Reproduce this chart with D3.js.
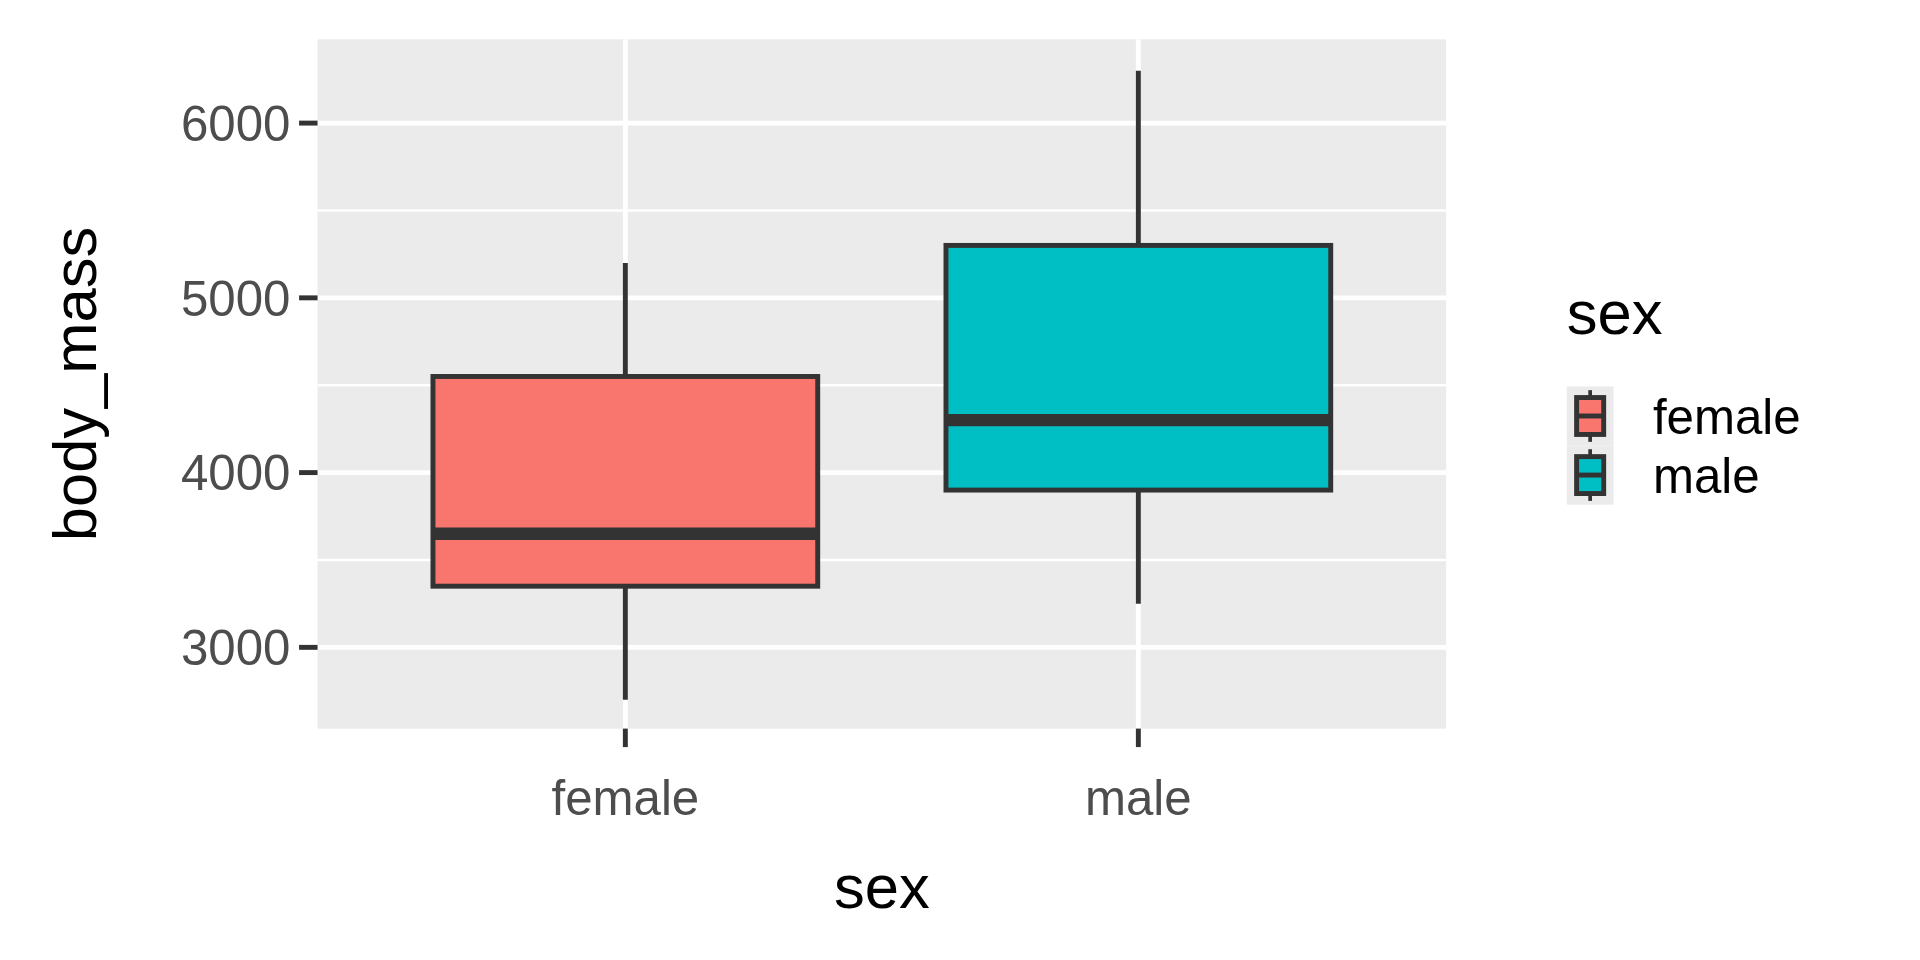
<!DOCTYPE html>
<html><head><meta charset="utf-8">
<script src="https://cdn.jsdelivr.net/npm/d3@7"></script>
<style>body{margin:0;background:#fff}text{font-family:"Liberation Sans",Arial,sans-serif}</style>
</head><body>
<svg id="c" width="1920" height="960" viewBox="0 0 1560 780"></svg>
<script>
const categories = ["female","male"];
const colors = ["#F8766D","#00BFC4"];
const whiskerLow = [2700,3250];
const q1 = [3350,3900];
const median = [3650,4300];
const q3 = [4550,5300];
const whiskerHigh = [5200,6300];
const yTicks = [3000,4000,5000,6000];

const svg = d3.select("#c");
const L=258,R=1175,T=32,B=592;
const x = d3.scalePoint().domain(categories).range([L,R]).padding(0.6*917/ (917) ).align(0.5);
// ggplot discrete expansion: centers at 1,2 on [0.4,2.6]
const xl = d3.scaleLinear().domain([0.4,2.6]).range([L,R]);
const cx = i => xl(i+1);
const y = d3.scaleLinear().domain([2535,6479]).range([B,T]);
svg.append("rect").attr("x",L).attr("y",T).attr("width",R-L).attr("height",B-T).attr("fill","#EBEBEB");
const minor = [2500,3500,4500,5500].filter(v=>y(v)<=B&&y(v)>=T);
minor.forEach(v=>svg.append("line").attr("x1",L).attr("x2",R).attr("y1",y(v)).attr("y2",y(v)).attr("stroke","#fff").attr("stroke-width",2));
[3500,4500,5500].forEach(v=>{});
yTicks.forEach(v=>svg.append("line").attr("x1",L).attr("x2",R).attr("y1",y(v)).attr("y2",y(v)).attr("stroke","#fff").attr("stroke-width",4));
categories.forEach((c,i)=>svg.append("line").attr("x1",cx(i)).attr("x2",cx(i)).attr("y1",T).attr("y2",B).attr("stroke","#fff").attr("stroke-width",4));
const bw = xl(1.375)-xl(0.625);
categories.forEach((c,i)=>{
  const g=svg.append("g");
  g.append("line").attr("x1",cx(i)).attr("x2",cx(i)).attr("y1",y(whiskerLow[i])).attr("y2",y(whiskerHigh[i])).attr("stroke","#333").attr("stroke-width",4);
  g.append("rect").attr("x",cx(i)-bw/2).attr("width",bw).attr("y",y(q3[i])).attr("height",y(q1[i])-y(q3[i])).attr("fill",colors[i]).attr("stroke","#333").attr("stroke-width",4);
  g.append("line").attr("x1",cx(i)-bw/2).attr("x2",cx(i)+bw/2).attr("y1",y(median[i])).attr("y2",y(median[i])).attr("stroke","#333").attr("stroke-width",10);
});
// axes
yTicks.forEach(v=>{
  svg.append("line").attr("x1",L-15).attr("x2",L).attr("y1",y(v)).attr("y2",y(v)).attr("stroke","#333").attr("stroke-width",4);
  svg.append("text").attr("x",L-22).attr("y",y(v)).attr("dy","0.36em").attr("text-anchor","end").attr("font-size",40).attr("fill","#4D4D4D").text(d3.format("d")(v));
});
categories.forEach((c,i)=>{
  svg.append("line").attr("x1",cx(i)).attr("x2",cx(i)).attr("y1",B).attr("y2",B+15).attr("stroke","#333").attr("stroke-width",4);
  svg.append("text").attr("x",cx(i)).attr("y",662).attr("text-anchor","middle").attr("font-size",40).attr("fill","#4D4D4D").text(c);
});
svg.append("text").attr("x",(L+R)/2).attr("y",738).attr("text-anchor","middle").attr("font-size",50).text("sex");
svg.append("text").attr("transform",`translate(78,${(T+B)/2}) rotate(-90)`).attr("text-anchor","middle").attr("font-size",50).text("body_mass");
// legend
svg.append("text").attr("x",1273).attr("y",271).attr("font-size",50).text("sex");
categories.forEach((c,i)=>{
  const ky=314+i*48;
  svg.append("rect").attr("x",1273).attr("y",ky).attr("width",38).attr("height",48).attr("fill","#EBEBEB");
  svg.append("line").attr("x1",1292).attr("x2",1292).attr("y1",ky+3).attr("y2",ky+45).attr("stroke","#333").attr("stroke-width",3);
  svg.append("rect").attr("x",1281).attr("y",ky+9).attr("width",22).attr("height",30).attr("fill",colors[i]).attr("stroke","#333").attr("stroke-width",4);
  svg.append("line").attr("x1",1281).attr("x2",1303).attr("y1",ky+24).attr("y2",ky+24).attr("stroke","#333").attr("stroke-width",4);
  svg.append("text").attr("x",1343).attr("y",ky+24).attr("dy","0.36em").attr("font-size",40).text(c);
});
</script></body></html>
